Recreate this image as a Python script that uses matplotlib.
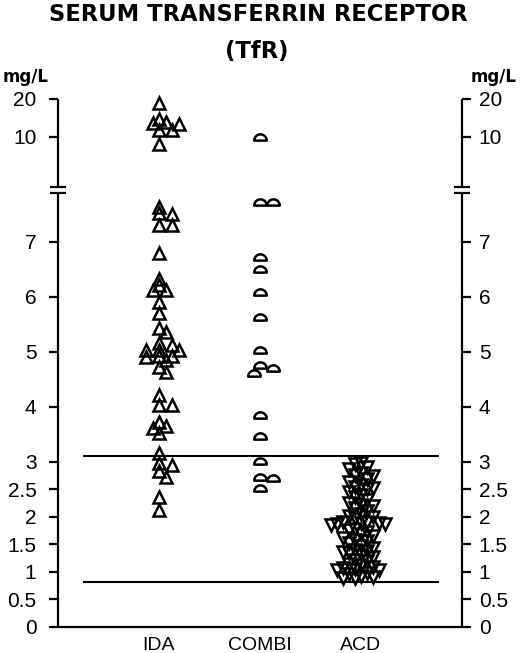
import numpy as np
import matplotlib
matplotlib.use("Agg")
import matplotlib.pyplot as plt
from matplotlib.path import Path

# ---------------- data ----------------
categories = ["IDA", "COMBI", "ACD"]

ida = [18.9, 14.6, 13.8, 13.55, 13.3, 11.8, 11.8, 9.7,
       7.64, 7.52, 7.50, 7.30, 7.30, 6.80,
       6.33, 6.21, 6.12, 6.12, 5.91, 5.71, 5.43, 5.35,
       5.15, 5.12, 5.04, 5.03, 5.03, 4.92, 4.92, 4.91, 4.85, 4.73, 4.64,
       4.21, 4.03, 4.03, 3.73, 3.65, 3.61, 3.52,
       3.15, 2.97, 2.94, 2.83, 2.73, 2.35, 2.13]

combi = [10.0, 7.73, 7.73, 6.73, 6.51, 6.09, 5.64, 5.03,
         4.75, 4.70, 4.62, 3.85, 3.47, 3.02, 2.72, 2.70, 2.52]

acd = [2.97, 2.96, 2.90, 2.86, 2.80, 2.76, 2.74, 2.68, 2.64,
       2.58, 2.54, 2.52, 2.50, 2.45, 2.40, 2.35, 2.30,
       2.25, 2.22, 2.20, 2.15, 2.10, 2.05, 2.01, 1.99, 1.97,
       1.91, 1.90, 1.89, 1.88, 1.87, 1.86, 1.85,
       1.78, 1.75, 1.72, 1.68, 1.65, 1.62, 1.58, 1.55, 1.52,
       1.47, 1.44, 1.40, 1.38, 1.36, 1.34, 1.30, 1.27,
       1.22, 1.19, 1.14, 1.12, 1.08, 1.06, 1.05, 1.04, 1.03,
       0.98, 0.96, 0.93, 0.91, 0.89, 0.88]

tick_values = [0, 0.5, 1, 1.5, 2, 2.5, 3, 4, 5, 6, 7, 10, 20]
tick_labels = ["0", "0.5", "1", "1.5", "2", "2.5", "3", "4", "5", "6", "7", "10", "20"]
cutoffs = [3.1, 0.82]
unit = "mg/L"
title1 = "SERUM TRANSFERRIN RECEPTOR"
title2 = "(TfR)"

# ---------------- broken piecewise scale ----------------
BREAK_LO, BREAK_HI = 7.89, 8.0
V = [-10, 0, BREAK_LO, BREAK_HI, 10, 20, 40]
D = [-10, 0, BREAK_LO, BREAK_HI, 8.909, 9.595, 10.967]


def fwd(v):
    return np.interp(v, V, D)


def inv(d):
    return np.interp(d, D, V)


W, H = 520, 653
fig = plt.figure(figsize=(W / 100, H / 100), dpi=100)
ax = fig.add_axes([58 / W, (H - 626.7) / H, 404 / W, (626.7 - 99) / H])
ax.set_yscale("function", functions=(fwd, inv))
ax.set_ylim(0, 20)
ax.set_xlim(0, 4)

ax2 = ax.twinx()
ax2.set_yscale("function", functions=(fwd, inv))
ax2.set_ylim(0, 20)

LW = 1.6
for a in (ax, ax2):
    for s in ("left", "right", "top", "bottom"):
        a.spines[s].set_visible(False)
ax.spines["bottom"].set_visible(True)
ax.spines["bottom"].set_linewidth(LW)

tick_font = dict(family="Liberation Sans", size=15)
ax.set_yticks(tick_values)
ax.set_yticklabels(tick_labels, fontdict=tick_font)
ax.yaxis.set_minor_locator(matplotlib.ticker.NullLocator())
ax.tick_params(axis="y", direction="out", length=6.5, width=LW, pad=9, left=True, right=False)
ax2.set_yticks(tick_values)
ax2.set_yticklabels(tick_labels, fontdict=tick_font)
ax2.yaxis.set_minor_locator(matplotlib.ticker.NullLocator())
ax2.tick_params(axis="y", direction="out", length=6.5, width=LW, pad=5.5, right=True, left=False)

ax.set_xticks([1, 2, 3])
ax.set_xticklabels(categories, fontdict=dict(family="Liberation Sans", size=14))
ax.tick_params(axis="x", length=0, pad=7.5)

# manual broken spines with break marks
ytr = ax.get_yaxis_transform()
for xa in (0.0, 1.0):
    ax.plot([xa, xa], [0, BREAK_LO], color="black", lw=LW, transform=ytr, clip_on=False,
            solid_capstyle="butt")
    ax.plot([xa, xa], [BREAK_HI, 20], color="black", lw=LW, transform=ytr, clip_on=False,
            solid_capstyle="butt")
    for yb in (BREAK_LO, BREAK_HI):
        ax.plot([xa - 0.02, xa + 0.02], [yb, yb], color="black", lw=LW, transform=ytr,
                clip_on=False, solid_capstyle="butt")

# cutoff lines
for c in cutoffs:
    ax.plot([0.25, 3.77], [c, c], color="black", lw=1.5, solid_capstyle="butt")


# ---------------- swarm layout (deterministic) ----------------
def swarm_x(cx, values, step_px, dy_same, dy_adj, first=1):
    vals = np.asarray(values, dtype=float)
    pts = ax.transData.transform(np.column_stack([np.full(len(vals), cx), vals]))
    order = np.argsort(-vals, kind="stable")
    ks = np.zeros(len(vals), dtype=int)
    placed = []
    cands = [0]
    for i in range(1, 20):
        cands += [first * i, -first * i]
    for idx in order:
        y = pts[idx, 1]
        for k in cands:
            ok = True
            for py, pk in placed:
                dk = abs(k - pk)
                dy = abs(y - py)
                if (dk == 0 and dy < dy_same) or (dk == 1 and dy < dy_adj):
                    ok = False
                    break
            if ok:
                ks[idx] = k
                placed.append((y, k))
                break
    xpx = pts[:, 0] + ks * step_px
    back = ax.transData.inverted().transform(np.column_stack([xpx, pts[:, 1]]))
    return back[:, 0]


fig.canvas.draw()
x_ida = swarm_x(1, ida, 6.5, 6, 3)
x_combi = swarm_x(2, combi, 6.5, 8, 5)
x_acd = swarm_x(3, acd, 6.0, 9, 0, first=-1)

# dome (half-disc) marker
theta = np.linspace(0, np.pi, 25)
dome_verts = np.column_stack([np.cos(theta), np.sin(theta) - 0.5])
dome_verts = np.vstack([dome_verts, dome_verts[:1]])
codes = [Path.MOVETO] + [Path.LINETO] * (len(dome_verts) - 2) + [Path.CLOSEPOLY]
dome = Path(dome_verts, codes)

mk = dict(linestyle="none", markerfacecolor="none", markeredgecolor="black",
          markeredgewidth=1.8, clip_on=False)
ax.plot(x_ida, ida, marker="^", markersize=8, **mk)
ax.plot(x_combi, combi, marker=dome, markersize=9, **mk)
ax.plot(x_acd, acd, marker="v", markersize=8.5, **mk)

# ---------------- texts ----------------
tfont = dict(family="DejaVu Sans", weight="bold", size=16.3)
fig.text(258 / W, 1 - 20.7 / H, title1, ha="center", va="baseline", **tfont)
fig.text(257 / W, 1 - 58.3 / H, title2, ha="center", va="baseline", **tfont)
ufont = dict(family="DejaVu Sans", weight="bold", size=12)
fig.text(26 / W, 1 - 81.7 / H, unit, ha="center", va="baseline", **ufont)
fig.text(493.5 / W, 1 - 81.7 / H, unit, ha="center", va="baseline", **ufont)

fig.savefig("out.png", dpi=100)
